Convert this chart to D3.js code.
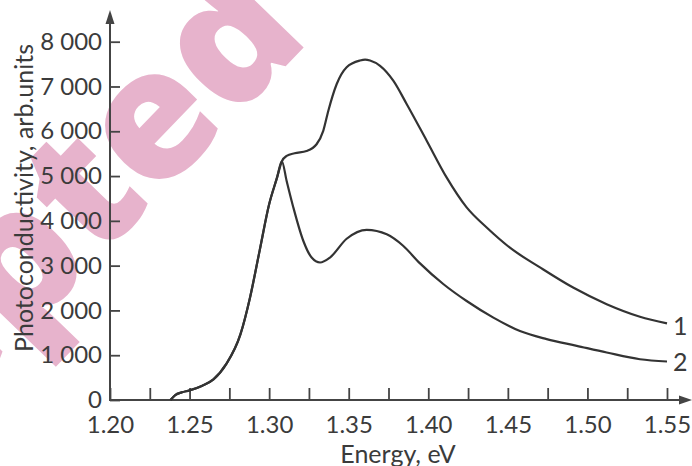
<!DOCTYPE html>
<html>
<head>
<meta charset="utf-8">
<script src="https://cdn.jsdelivr.net/npm/d3@7"></script>
<style>
  body { margin: 0; background: #fff; }
  text { font-family: Lato, "Open Sans", sans-serif; fill: #3b3b3b; }
</style>
</head>
<body>
<div id="container"></div>
<script>
// curve 1 (upper) - energy in eV, photoconductivity in arb.units
const energy1 = [1.238, 1.241, 1.245, 1.25, 1.258, 1.265, 1.273, 1.282, 1.288, 1.294, 1.3, 1.305, 1.308,
  1.311, 1.316, 1.3235, 1.3298, 1.334, 1.3372, 1.3424, 1.3487, 1.3571, 1.3603, 1.3634, 1.3697, 1.378,
  1.3864, 1.399, 1.4115, 1.4241, 1.4367, 1.4513, 1.4702, 1.491, 1.5121, 1.533, 1.55]
const photo1 = [0, 110, 170, 215, 320, 460, 800, 1470, 2290, 3330, 4370, 4970, 5330,
  5450, 5510, 5560, 5710, 6010, 6460, 7050, 7430, 7580, 7600, 7580, 7460, 7130,
  6610, 5790, 4970, 4300, 3850, 3400, 2960, 2510, 2140, 1860, 1710]

// curve 2 (lower)
const energy2 = [1.238, 1.241, 1.245, 1.25, 1.258, 1.265, 1.273, 1.282, 1.288, 1.294, 1.3, 1.305, 1.308,
  1.311, 1.3152, 1.3215, 1.3267, 1.332, 1.3382, 1.3487, 1.3613, 1.3739, 1.384, 1.3948, 1.4094, 1.4241,
  1.4409, 1.4576, 1.4744, 1.4933, 1.5121, 1.533, 1.55]
const photo2 = [0, 110, 170, 215, 320, 460, 800, 1470, 2290, 3330, 4370, 4970, 5330,
  4890, 4300, 3550, 3180, 3070, 3180, 3600, 3800, 3700, 3450, 3050, 2590, 2210,
  1840, 1540, 1360, 1210, 1060, 910, 860]

const curveNames = ["1", "2"]
const xTicks = d3.range(0, 15).map(i => +(1.20 + i * 0.025).toFixed(3))
const yTicks = d3.range(0, 9).map(i => i * 1000)

const width = 692, height = 466

const svg = d3.select("#container").append("svg")
  .attr("width", width)
  .attr("height", height)

const x = d3.scaleLinear().domain([1.20, 1.55]).range([110, 667])
const y = d3.scaleLinear().domain([0, 8000]).range([400, 41.7])

// pink watermark sitting behind the chart
svg.append("text")
  .attr("transform", "translate(312,39) rotate(-46)")
  .attr("text-anchor", "end")
  .style("font-family", "'Open Sans', sans-serif")
  .style("font-weight", 800)
  .style("font-size", "180px")
  .style("fill", "#e7b3cc")
  .text("Accepted")

// x axis, ticks pointing inwards
const xAxis = svg.append("g")
  .attr("transform", "translate(0," + y(0) + ")")
  .call(d3.axisBottom(x)
    .tickValues(xTicks)
    .tickFormat(d => Math.round(d * 1000) % 50 === 0 ? d3.format(".2f")(d) : "")
    .tickSize(-12)
    .tickPadding(16))
xAxis.select(".domain").remove()

const yAxis = svg.append("g")
  .attr("transform", "translate(" + x(1.20) + ",0)")
  .call(d3.axisLeft(y)
    .tickValues(yTicks)
    .tickFormat(d => d === 0 ? "0" : d3.format(",")(d).replace(",", " "))
    .tickSize(-10)
    .tickPadding(8))
yAxis.select(".domain").remove()

svg.selectAll(".tick line").attr("stroke", "#444").attr("stroke-width", 1.8)
svg.selectAll(".tick text").style("font-size", "24px").style("fill", "#3b3b3b")

// axis lines with arrow heads
svg.append("line")
  .attr("x1", x(1.20)).attr("y1", y(0))
  .attr("x2", 684).attr("y2", y(0))
  .attr("stroke", "#444").attr("stroke-width", 2)
svg.append("path")
  .attr("d", `M692,${y(0)} L679,${y(0) - 4.5} L679,${y(0) + 4.5} Z`)
  .attr("fill", "#444")

svg.append("line")
  .attr("x1", x(1.20)).attr("y1", y(0) + 1)
  .attr("x2", x(1.20)).attr("y2", 18)
  .attr("stroke", "#444").attr("stroke-width", 2)
svg.append("path")
  .attr("d", `M${x(1.20)},10 L${x(1.20) - 4.5},24 L${x(1.20) + 4.5},24 Z`)
  .attr("fill", "#444")

// axis titles
svg.append("text")
  .attr("transform", "translate(33,198) rotate(-90)")
  .attr("text-anchor", "middle")
  .style("font-size", "25px")
  .text("Photoconductivity, arb.units")

svg.append("text")
  .attr("x", 398).attr("y", 463)
  .attr("text-anchor", "middle")
  .style("font-size", "25px")
  .text("Energy, eV")

// the two spectra
const line = d3.line()
  .x(d => x(d[0]))
  .y(d => y(d[1]))
  .curve(d3.curveMonotoneX)

const series = [d3.zip(energy1, photo1), d3.zip(energy2, photo2)]

svg.selectAll(".curve")
  .data(series)
  .enter()
  .append("path")
    .attr("class", "curve")
    .attr("d", line)
    .attr("fill", "none")
    .attr("stroke", "#333")
    .attr("stroke-width", 2.2)

// curve numbers at the right end
svg.selectAll(".curve-label")
  .data(series)
  .enter()
  .append("text")
    .attr("class", "curve-label")
    .attr("x", d => x(d[d.length - 1][0]) + 6)
    .attr("y", (d, i) => y(d[d.length - 1][1]) + (i === 0 ? 12 : 10))
    .style("font-size", "25px")
    .text((d, i) => curveNames[i])
</script>
</body>
</html>
